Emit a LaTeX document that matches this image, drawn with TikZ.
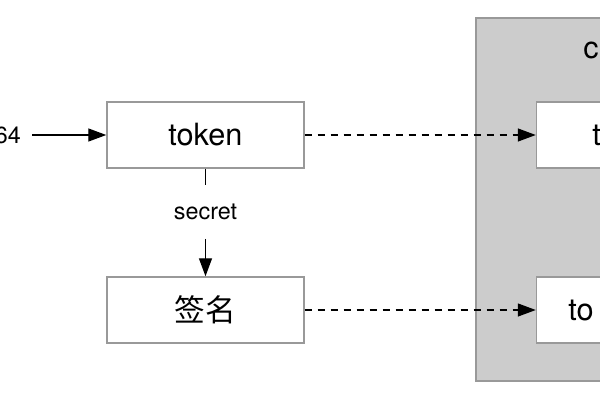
\documentclass[tikz,border=0pt]{standalone}
\usepackage{fontspec}
\setmainfont{TeX Gyre Heros}
\newfontfamily\cjk{Noto Sans CJK SC}
\usetikzlibrary{arrows.meta}
\definecolor{boxgray}{RGB}{153,153,153}
\definecolor{panelgray}{RGB}{204,204,204}

\tikzset{
  blockbox/.style={draw=boxgray, line width=1.1pt, fill=white, minimum width=147.75pt, minimum height=49.5pt, inner sep=0pt},
  lbl/.style={inner sep=0pt, font=\fontsize{23}{27}\selectfont},
  smalllbl/.style={inner sep=0pt, font=\fontsize{17.5}{21}\selectfont},
  arr/.style={line width=1pt, -{Triangle[length=13.5pt, width=9.75pt]}},
  dasharr/.style={arr, dash pattern={on 5.25pt off 4.5pt}},
}

\begin{document}
\begin{tikzpicture}[x=0.75pt,y=0.75pt,yscale=-1,xscale=1]
	\useasboundingbox (0,0) rectangle (600,400);
	\clip (0,0) rectangle (600,400);

	%Shape: Rectangle [id:panel]
	\draw [draw=boxgray, line width=1.1pt, fill=panelgray] (476,18) rectangle (680,381) ;
	% Text Node
	\node [lbl, anchor=west] (ptitle) at (583,50) {c};

	%Shape: Rectangle [id:token]
	\node [blockbox, lbl] (token) at (205.5,135) {token};
	%Shape: Rectangle [id:sign]
	\node [blockbox, lbl] (sign) at (205.5,310) {\cjk 签名};
	%Shape: Rectangle [id:ctoken]
	\node [blockbox] (ctoken) at (635,135) {};
	%Shape: Rectangle [id:csign]
	\node [blockbox] (csign) at (635,310) {};
	% Text Node
	\node [lbl, anchor=west] (ctokentxt) at (592,135) {t};
	% Text Node
	\node [lbl, anchor=west] (csigntxt) at (568,310) {to};

	% Text Node
	\node [smalllbl, anchor=east] (src) at (21,135) {64};
	\coordinate (srcend) at (32,135);
	% Text Node
	\node [smalllbl, minimum height=39.75pt] (secret) at (205.5,212) {secret};

	%Straight Lines
	\draw [arr] (srcend) -- (token.west) ;
	%Straight Lines
	\draw [line width=1pt] (token.south) -- (secret.north) ;
	\draw [arr] (secret.south) -- (sign.north) ;
	%Straight Lines
	\draw [dasharr] (token.east) -- (ctoken.west) ;
	\draw [dasharr] (sign.east) -- (csign.west) ;

\end{tikzpicture}
\end{document}
